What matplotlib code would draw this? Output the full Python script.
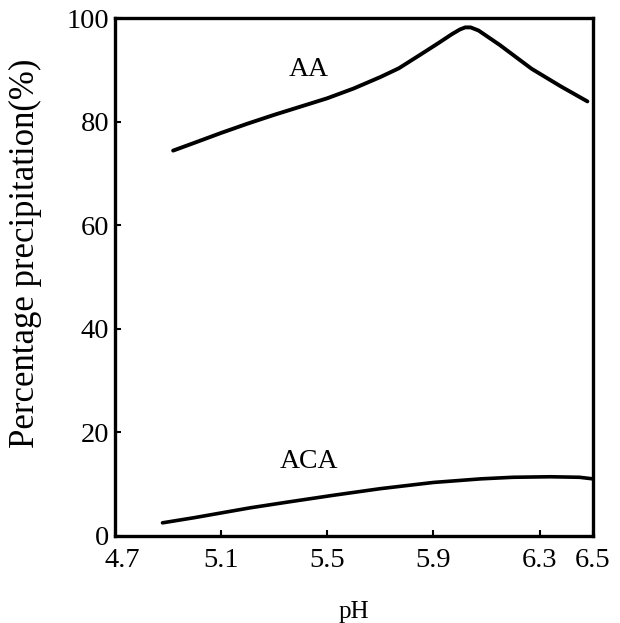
import numpy as np
import matplotlib.pyplot as plt
import matplotlib.transforms as mtransforms

plt.rcParams['font.family'] = ['Liberation Serif', 'DejaVu Serif']

# AA curve (pH, % precipitation)
aa_ph = [4.92, 5.0, 5.1, 5.2, 5.3, 5.4, 5.5, 5.6, 5.7, 5.77, 5.85, 5.92, 5.97, 6.0, 6.02, 6.04, 6.07, 6.15, 6.27, 6.38, 6.48]
aa_val = [74.4, 75.9, 77.8, 79.6, 81.3, 82.9, 84.5, 86.4, 88.6, 90.3, 92.9, 95.2, 96.9, 97.8, 98.2, 98.2, 97.6, 94.8, 90.2, 86.8, 83.9]

# ACA curve
aca_ph = [4.88, 5.0, 5.21, 5.35, 5.52, 5.7, 5.9, 6.08, 6.2, 6.34, 6.45, 6.5]
aca_val = [2.5, 3.5, 5.4, 6.5, 7.8, 9.1, 10.3, 11.0, 11.3, 11.4, 11.3, 11.0]

xticks = [4.7, 5.1, 5.5, 5.9, 6.3, 6.5]
yticks = [0, 20, 40, 60, 80, 100]

fig = plt.figure(figsize=(6.2, 6.23), dpi=100)
ax = fig.add_axes([0.185, 0.14, 0.771, 0.831])

ax.plot(aa_ph, aa_val, color='black', lw=2.8, solid_capstyle='round', solid_joinstyle='round')
ax.plot(aca_ph, aca_val, color='black', lw=2.6, solid_capstyle='round', solid_joinstyle='round')

ax.text(5.43, 90, 'AA', fontsize=20, ha='center', va='center')
ax.text(5.43, 14.3, 'ACA', fontsize=20, ha='center', va='center')

ax.set_xlim(4.7, 6.5)
ax.set_ylim(0, 100)
ax.set_xticks(xticks)
ax.set_xticklabels([str(t) for t in xticks])
ax.set_yticks(yticks)
ax.tick_params(direction='in', length=4, width=1.5, labelsize=20.5)
ax.tick_params(axis='x', pad=9)
ax.tick_params(axis='y', pad=4)
for s in ax.spines.values():
    s.set_linewidth(2.4)

# first x label sits a bit to the right of its tick, as in the original
first = ax.get_xticklabels()[0]
first.set_transform(first.get_transform() +
                    mtransforms.ScaledTranslation(8 / 100, 0, fig.dpi_scale_trans))

ax.set_xlabel('pH', fontsize=18, labelpad=20)
ax.set_ylabel('Percentage precipitation(%)', fontsize=25)
ax.yaxis.set_label_coords(-0.152, 0.546)

fig.savefig('out.png', dpi=100)
